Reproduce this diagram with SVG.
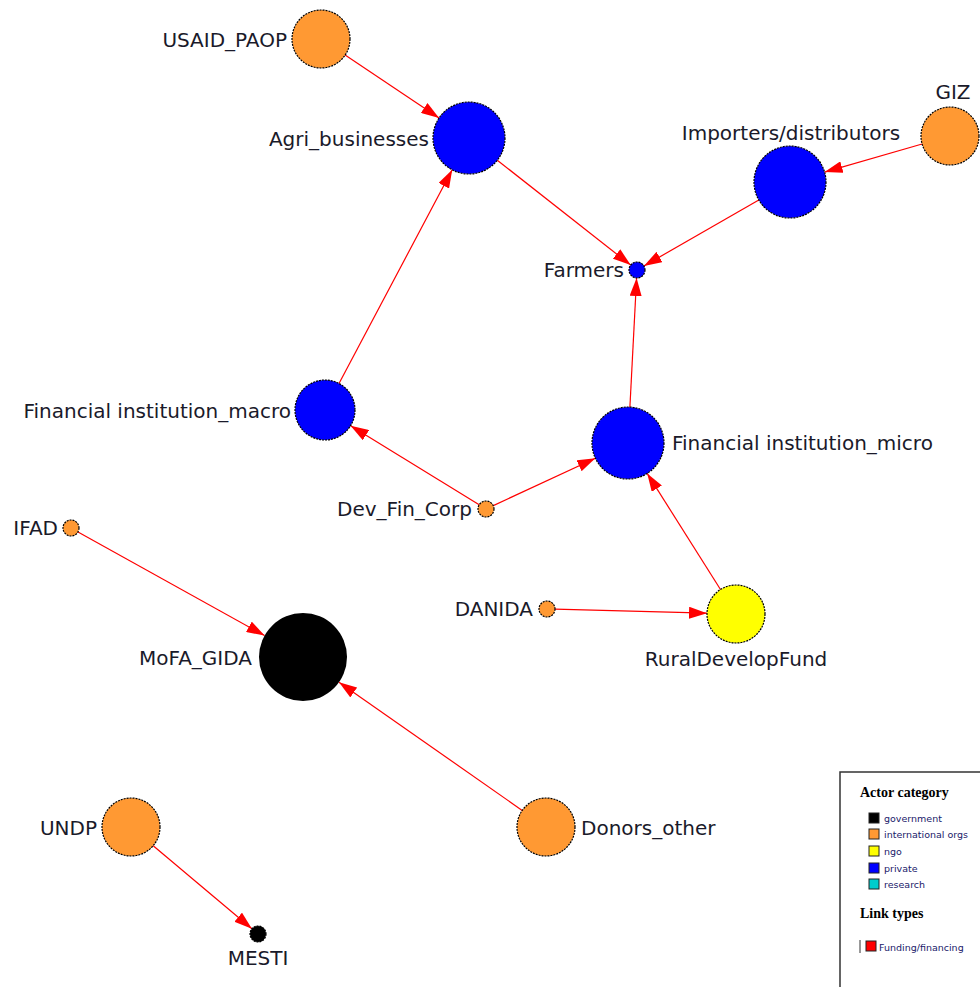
<svg xmlns="http://www.w3.org/2000/svg" width="980" height="987" viewBox="0 0 980 987">
<style>
.n{stroke:#000;stroke-width:1.2;stroke-dasharray:2 1}
.l{font-family:"DejaVu Sans",Verdana,sans-serif;font-size:20px;fill:#1a1a2a}
.e{stroke:#ff0000;stroke-width:1.2;fill:none;marker-end:url(#ah)}
.lg{font-family:"DejaVu Sans",sans-serif;font-size:9.5px;fill:#20206a}
.lh{font-family:"Liberation Serif",serif;font-size:14px;font-weight:bold;fill:#000}
.sw{stroke:#222;stroke-width:1}
</style>
<defs>
<marker id="ah" markerUnits="userSpaceOnUse" markerWidth="18" markerHeight="12" refX="18" refY="6" orient="auto">
<path d="M0,0 L18,6 L0,12 z" fill="#ff0000"/>
</marker>
</defs>
<rect width="980" height="987" fill="#fff"/>
<g id="edges">
<line class="e" x1="345.1" y1="55.1" x2="439.1" y2="118"/>
<line class="e" x1="497.3" y1="160.2" x2="630.7" y2="265.1"/>
<line class="e" x1="758.8" y1="199.9" x2="643.9" y2="266"/>
<line class="e" x1="922.1" y1="144" x2="824.6" y2="172.1"/>
<line class="e" x1="629.9" y1="407" x2="636.6" y2="278"/>
<line class="e" x1="339" y1="383.5" x2="452.2" y2="169.8"/>
<line class="e" x1="479.2" y1="504.8" x2="350.6" y2="425.7"/>
<line class="e" x1="493.3" y1="505.6" x2="595.4" y2="458.2"/>
<line class="e" x1="720.5" y1="589.5" x2="647.2" y2="473.4"/>
<line class="e" x1="555" y1="609.2" x2="707" y2="613.2"/>
<line class="e" x1="78" y1="531.9" x2="264.6" y2="635.6"/>
<line class="e" x1="522.2" y1="810.4" x2="339" y2="682.2"/>
<line class="e" x1="153.2" y1="845.7" x2="251.9" y2="928.8"/>
</g>
<g id="USAID_PAOP"><circle class="n" cx="321" cy="39" r="29" fill="#ff9933"/><text class="l" x="287" y="47" text-anchor="end">USAID_PAOP</text></g>
<g id="Agri_businesses"><circle class="n" cx="469" cy="138" r="36" fill="#0000ff"/><text class="l" x="429" y="146" text-anchor="end">Agri_businesses</text></g>
<g id="Importers_distributors"><circle class="n" cx="790" cy="182" r="36" fill="#0000ff"/><text class="l" x="791" y="140" text-anchor="middle">Importers/distributors</text></g>
<g id="GIZ"><circle class="n" cx="950" cy="136" r="29" fill="#ff9933"/><text class="l" x="953" y="99" text-anchor="middle">GIZ</text></g>
<g id="Farmers"><circle class="n" cx="637" cy="270" r="8" fill="#0000ff"/><text class="l" x="624" y="277" text-anchor="end">Farmers</text></g>
<g id="Financial_institution_macro"><circle class="n" cx="325" cy="410" r="30" fill="#0000ff"/><text class="l" x="291" y="418" text-anchor="end">Financial institution_macro</text></g>
<g id="Financial_institution_micro"><circle class="n" cx="628" cy="443" r="36" fill="#0000ff"/><text class="l" x="672" y="450">Financial institution_micro</text></g>
<g id="Dev_Fin_Corp"><circle class="n" cx="486" cy="509" r="8" fill="#ff9933"/><text class="l" x="472" y="516" text-anchor="end">Dev_Fin_Corp</text></g>
<g id="IFAD"><circle class="n" cx="71" cy="528" r="8" fill="#ff9933"/><text class="l" x="58" y="535" text-anchor="end">IFAD</text></g>
<g id="MoFA_GIDA"><circle cx="303" cy="657" r="44" fill="#000"/><text class="l" x="252" y="665" text-anchor="end">MoFA_GIDA</text></g>
<g id="DANIDA"><circle class="n" cx="547" cy="609" r="8" fill="#ff9933"/><text class="l" x="533" y="616" text-anchor="end">DANIDA</text></g>
<g id="RuralDevelopFund"><circle class="n" cx="736" cy="614" r="29" fill="#ffff00"/><text class="l" x="736" y="666" text-anchor="middle">RuralDevelopFund</text></g>
<g id="UNDP"><circle class="n" cx="131" cy="827" r="29" fill="#ff9933"/><text class="l" x="97" y="835" text-anchor="end">UNDP</text></g>
<g id="Donors_other"><circle class="n" cx="546" cy="827" r="29" fill="#ff9933"/><text class="l" x="581" y="835">Donors_other</text></g>
<g id="MESTI"><circle class="n" cx="258" cy="934" r="8" fill="#000"/><text class="l" x="258" y="965" text-anchor="middle">MESTI</text></g>
<g id="legend">
<path d="M840,987 V772 H980" fill="none" stroke="#333" stroke-width="1.5"/>
<text class="lh" x="860" y="797">Actor category</text>
<rect class="sw" x="869" y="813" width="10" height="10" fill="#000"/><text class="lg" x="884" y="822">government</text>
<rect class="sw" x="869" y="829" width="10" height="10" fill="#ff9933"/><text class="lg" x="884" y="838">international orgs</text>
<rect class="sw" x="869" y="846" width="10" height="10" fill="#ffff00"/><text class="lg" x="884" y="855">ngo</text>
<rect class="sw" x="869" y="863" width="10" height="10" fill="#0000ff"/><text class="lg" x="884" y="872">private</text>
<rect class="sw" x="869" y="879" width="10" height="10" fill="#00cccc"/><text class="lg" x="884" y="888">research</text>
<text class="lh" x="860" y="918">Link types</text>
<line x1="860" y1="940" x2="860" y2="953" stroke="#333" stroke-width="1"/>
<rect class="sw" x="866" y="941" width="10" height="10" fill="#ff0000"/><text class="lg" x="879" y="951">Funding/financing</text>
</g>
</svg>
